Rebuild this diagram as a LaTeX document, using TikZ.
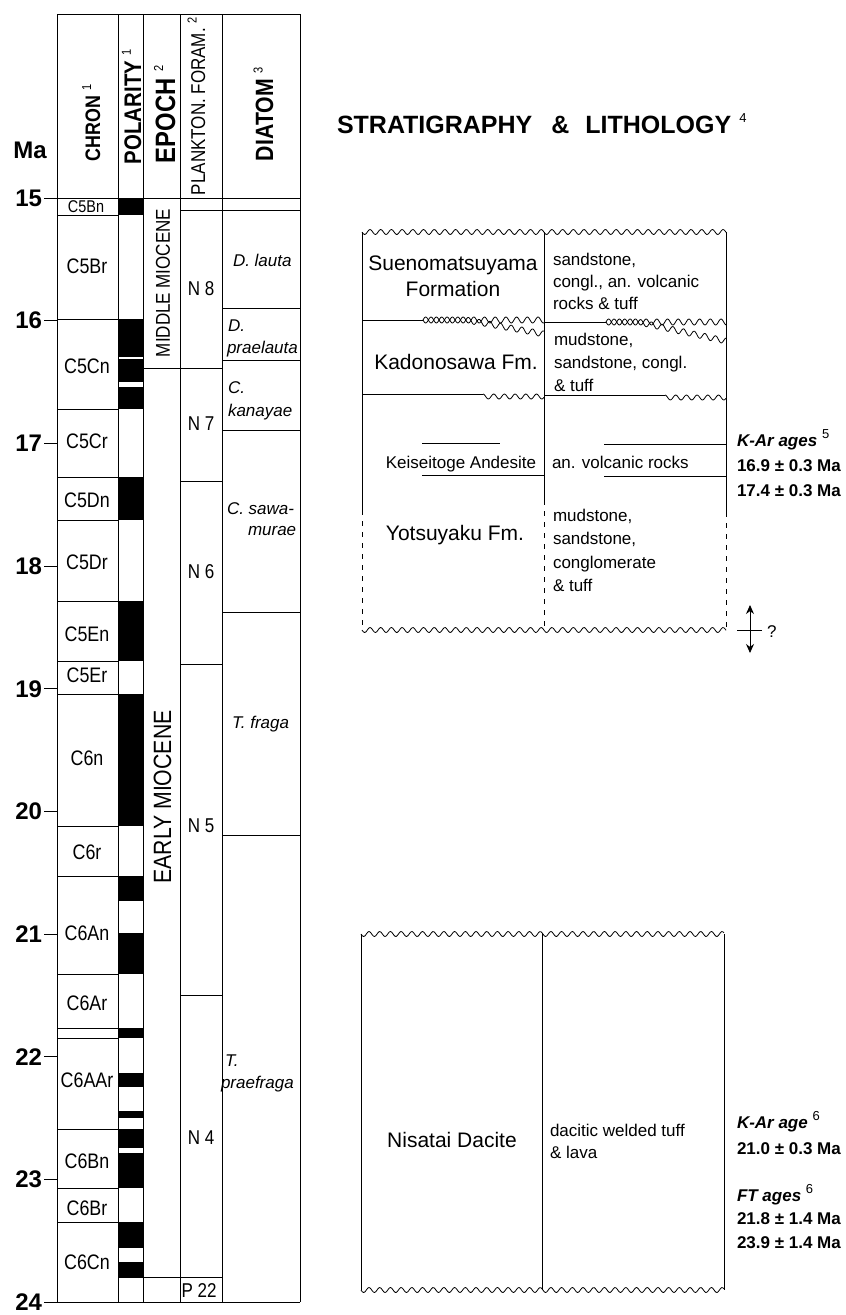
\documentclass[tikz,border=0pt]{standalone}
\usepackage{fontspec}
\setmainfont{Liberation Sans}
\newfontfamily\cnd[FakeStretch=0.85]{Liberation Sans}
\usetikzlibrary{arrows.meta}
\newcommand{\fs}[2]{\fontsize{#1}{#2}\selectfont}
\newcommand{\sups}[1]{\raisebox{0.42em}{\fontsize{13}{13}\selectfont\mdseries\upshape #1}}
\newcommand{\wavy}[4]{\draw[wv] plot[domain=#1:#2, samples=#4] (\x,{#3+2.5*sin(33.645*(\x-#1))});}
\begin{document}
\begin{tikzpicture}[x=1pt,y=-1pt,
  ln/.style={line width=0.9pt},
  wv/.style={line width=0.8pt, line join=round},
  dsh/.style={line width=0.8pt, dash pattern=on 5pt off 6pt},
  txt/.style={inner sep=0pt, outer sep=0pt},
  hdr/.style={txt, rotate=90, anchor=base west},
  chr/.style={txt, font={\cnd\fs{21}{21}}},
  pfl/.style={txt, font={\cnd\fs{20}{20}}},
  dia/.style={txt, anchor=base west, font={\itshape\fs{17}{17}}},
  mal/.style={txt, anchor=east, font={\bfseries\fs{24}{24}}},
  fmn/.style={txt, font={\fs{21}{26}}, align=center},
  lit/.style={txt, anchor=north west, align=left},
  age/.style={txt, anchor=base west, font={\bfseries\fs{17}{17}}}
]
\useasboundingbox (0,0) rectangle (846,1315);

% ---------------- polarity blocks
\foreach \a/\b in {198/215,319/357,359/382,387/409,477/520,601/661,694/826,876/901,933/974,1028/1038,1073/1087,1111/1118,1129/1148,1153/1188,1222/1248,1262/1278}
  \fill (118,\a) rectangle (143,\b);

% ---------------- table frame
\draw[ln] (57,14) -- (300,14);
\foreach \xx in {57,118,143,180,222,300} \draw[ln] (\xx,14) -- (\xx,1302);
\draw[ln] (44,198) -- (300,198);
\draw[ln] (44,1302) -- (300,1302);
% chron boundaries
\foreach \yy in {215,319,409,477,520,601,661,694,826,876,974,1028,1038,1129,1188,1222}
  \draw[ln] (57,\yy) -- (118,\yy);
% epoch / plankton / diatom boundaries
\draw[ln] (143,368) -- (222,368);
\draw[ln] (143,1277) -- (222,1277);
\draw[ln] (180,210) -- (300,210);
\foreach \yy in {481,664,995} \draw[ln] (180,\yy) -- (222,\yy);
\foreach \yy in {308,360,430,612,835} \draw[ln] (222,\yy) -- (300,\yy);

% ---------------- Ma scale
\node[txt, font={\bfseries\fs{24}{24}}] (maHead) at (30,150) {Ma};
\node[mal] (ma15) at (42,198) {15};
\node[mal] (ma24) at (42,1302) {24};
\foreach \m/\yy in {16/320.7,17/443.4,18/566.1,19/688.8,20/811.5,21/934.2,22/1056.9,23/1179.6}{
  \draw[ln] (44,\yy) -- (57,\yy);
  \node[mal] (ma\m) at (42,\yy) {\m};
}

% ---------------- headers
\node[hdr, font={\cnd\bfseries\fs{21}{21}}] (hChron) at (100,161) {CHRON \sups{1}};
\node[hdr, font={\cnd\bfseries\fs{24}{24}}] (hPol) at (141,164) {POLARITY \sups{1}};
\node[hdr, font={\cnd\bfseries\fs{28}{28}}] (hEp) at (175,163) {EPOCH \sups{2}};
\node[hdr, font={\cnd\fs{20}{20}}] (hPf) at (205,195) {PLANKTON. FORAM. \sups{2}};
\node[hdr, font={\cnd\bfseries\fs{25}{25}}] (hDia) at (273,161) {DIATOM \sups{3}};

% ---------------- chron labels
\node[txt, font={\cnd\fs{17}{17}}] (chC5Bn) at (86,207) {C5Bn};
\foreach \t/\yy in {C5Br/266,C5Cn/366,C5Cr/441,C5Dn/500,C5Dr/562,C5En/634,C5Er/675,C6n/758,C6r/852,C6An/933,C6Ar/1003,C6AAr/1080,C6Bn/1161,C6Br/1208,C6Cn/1262}
  \node[chr] (ch\t) at (87,\yy) {\t};

% ---------------- epoch labels
\node[txt, rotate=90, font={\cnd\fs{20}{20}}] (epMid) at (163,283) {MIDDLE MIOCENE};
\node[txt, rotate=90, font={\cnd\fs{25}{25}}] (epEarly) at (162.5,797) {EARLY MIOCENE};

% ---------------- plankton zones
\node[pfl] (pN8) at (201,289) {N 8};
\node[pfl] (pN7) at (201,424) {N 7};
\node[pfl] (pN6) at (201,572) {N 6};
\node[pfl] (pN5) at (201,826) {N 5};
\node[pfl] (pN4) at (201,1138) {N 4};
\node[pfl] (pP22) at (199,1291) {P 22};

% ---------------- diatom zones
\node[dia] (dLauta) at (233,266) {D. lauta};
\node[dia] (dPr1) at (228,331) {D.};
\node[dia] (dPr2) at (227,353) {praelauta};
\node[dia] (dKa1) at (228,393) {C.};
\node[dia] (dKa2) at (228,416) {kanayae};
\node[dia] (dSa1) at (227,514) {C. sawa-};
\node[dia] (dSa2) at (248,535) {murae};
\node[dia] (dFr) at (232,728) {T. fraga};
\node[dia] (dPf1) at (225,1066) {T.};
\node[dia] (dPf2) at (221,1088) {praefraga};

% ---------------- title
\node[txt, anchor=base west, font={\bfseries\fs{25}{25}}] (title) at (337,133) {STRATIGRAPHY\hspace{19pt}\&\hspace{16pt}LITHOLOGY\hspace{8pt}\sups{4}};

% ---------------- upper lithology box
\wavy{362}{726}{232}{320}
\wavy{362}{726}{630}{320}
\draw[ln] (362,232) -- (362,510);
\draw[ln] (544,232) -- (544,500);
\draw[ln] (726,232) -- (726,512);
\draw[dsh] (362,510) -- (362,630);
\draw[dsh] (544,500) -- (544,630);
\draw[dsh] (726,512) -- (726,630);
% Suenomatsuyama / Kadonosawa boundary (interfingering)
\draw[wv] (362,320) -- (423,320);
\draw[wv] plot[domain=423:544, samples=150] (\x,{320+3*sin(33.645*(\x-423))});
\draw[wv] plot[domain=423:544, samples=150] (\x,{320-3*sin(33.645*(\x-423))+14*max(0,\x-466)/78});
\draw[wv] (544,322) -- (606,322);
\draw[wv] plot[domain=606:726, samples=150] (\x,{322+3*sin(33.645*(\x-606))});
\draw[wv] plot[domain=606:726, samples=150] (\x,{322-3*sin(33.645*(\x-606))+19*max(0,\x-638)/88});
% Kadonosawa base
\draw[wv] (362,394) -- (483,394);
\draw[wv] plot[domain=483:544, samples=60] (\x,{396.5-2.5*cos(33.645*(\x-483))});
\draw[wv] (544,395) -- (665,395);
\draw[wv] plot[domain=665:726, samples=60] (\x,{397.5-2.5*cos(33.645*(\x-665))});
% Keiseitoge Andesite
\draw[ln] (422,443) -- (500,443);
\draw[ln] (422,475) -- (544,475);
\draw[ln] (604,444) -- (726,444);
\draw[ln] (604,476) -- (726,476);

\node[fmn, anchor=north] (fSue) at (453,256) {Suenomatsuyama\\Formation};
\node[lit, font={\fs{17}{22}}] (lSue) at (553,253) {sandstone,\\congl., an. volcanic\\rocks \& tuff};
\node[txt, anchor=base, font={\fs{21}{21}}] (fKad) at (456,369) {Kadonosawa Fm.};
\node[lit, font={\fs{17}{23}}] (lKad) at (554,333) {mudstone,\\sandstone, congl.\\\& tuff};
\node[txt, anchor=base, font={\fs{17}{17}}] (fKei) at (461,468) {Keiseitoge Andesite};
\node[txt, anchor=base west, font={\fs{17}{17}}] (lKei) at (552,468) {an. volcanic rocks};
\node[txt, anchor=base, font={\fs{21}{21}}] (fYot) at (455,540) {Yotsuyaku Fm.};
\node[lit, font={\fs{17}{23.5}}] (lYot) at (553,509) {mudstone,\\sandstone,\\conglomerate\\\& tuff};

% ages (upper)
\node[age, font={\bfseries\itshape\fs{17}{17}}] (kar1) at (737,446) {K-Ar ages \sups{5}};
\node[age] (kar1a) at (737,471) {16.9 ± 0.3 Ma};
\node[age] (kar1b) at (737,496) {17.4 ± 0.3 Ma};

% uncertainty arrow
\coordinate (arT) at (750,605);
\coordinate (arB) at (750,653);
\coordinate (arL) at (737,630);
\coordinate (arR) at (762,630);
\draw[ln, {Stealth[length=9pt,width=8pt]}-{Stealth[length=9pt,width=8pt]}] (arT) -- (arB);
\draw[ln] (arL) -- (arR);
\node[txt, anchor=west, font={\fs{17}{17}}] (qm) at (767,632) {?};

% ---------------- lower lithology box (Nisatai Dacite)
\wavy{361}{724}{934}{320}
\wavy{361}{724}{1290}{320}
\draw[ln] (361,934) -- (361,1290);
\draw[ln] (542,934) -- (542,1290);
\draw[ln] (724,934) -- (724,1290);
\node[txt, anchor=base, font={\fs{21}{21}}] (fNis) at (452,1147) {Nisatai Dacite};
\node[lit, font={\fs{17}{22}}] (lNis) at (550,1124) {dacitic welded tuff\\\& lava};

% ages (lower)
\node[age, font={\bfseries\itshape\fs{17}{17}}] (kar2) at (737,1128) {K-Ar age \sups{6}};
\node[age] (kar2a) at (737,1154) {21.0 ± 0.3 Ma};
\node[age, font={\bfseries\itshape\fs{17}{17}}] (ft2) at (737,1201) {FT ages \sups{6}};
\node[age] (ft2a) at (737,1224) {21.8 ± 1.4 Ma};
\node[age] (ft2b) at (737,1248) {23.9 ± 1.4 Ma};
\end{tikzpicture}
\end{document}
